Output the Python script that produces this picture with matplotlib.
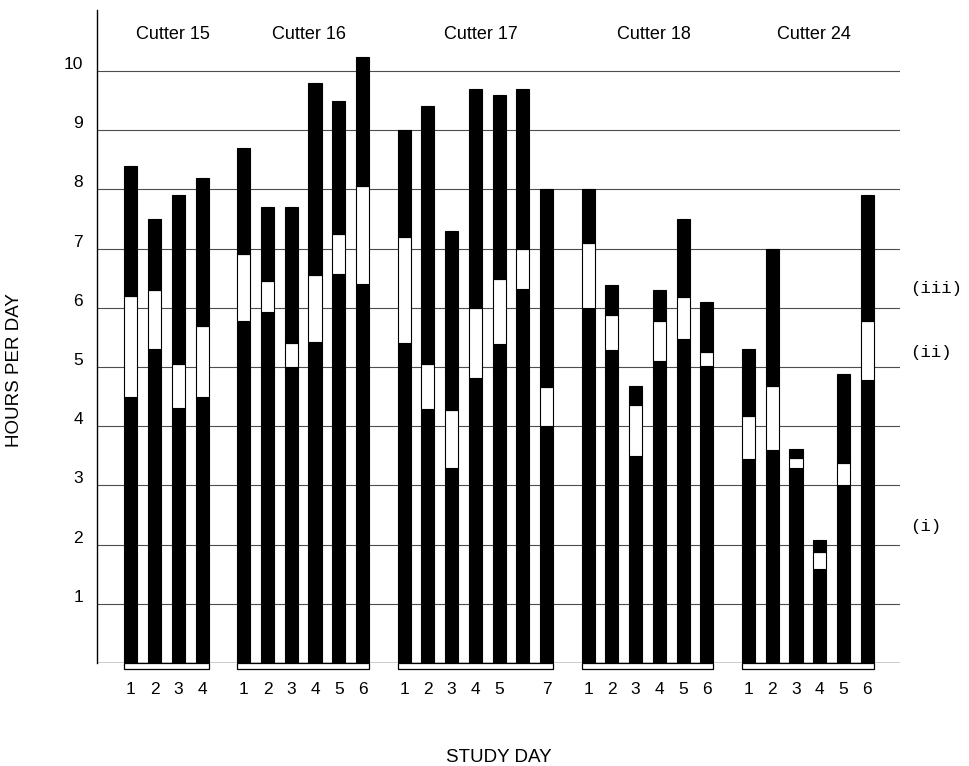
import numpy as np
import matplotlib
matplotlib.use("Agg")
from matplotlib import pyplot as plt
from matplotlib.patches import Rectangle
from matplotlib import transforms

plt.rcParams['font.family'] = ['Liberation Sans', 'DejaVu Sans']

# data: hours per day, each bar = (top of lower black, top of white band, total)
cutters = ['Cutter 15', 'Cutter 16', 'Cutter 17', 'Cutter 18', 'Cutter 24']
day_labels = [
    ['1', '2', '3', '4'],
    ['1', '2', '3', '4', '5', '6'],
    ['1', '2', '3', '4', '5', '', '7'],
    ['1', '2', '3', '4', '5', '6'],
    ['1', '2', '3', '4', '5', '6'],
]
lower = [
    [4.5, 5.3, 4.3, 4.5],
    [5.78, 5.93, 5.0, 5.42, 6.57, 6.4],
    [5.4, 4.29, 3.3, 4.81, 5.39, 6.31, 4.0],
    [6.0, 5.29, 3.5, 5.1, 5.48, 5.02],
    [3.45, 3.6, 3.29, 1.59, 3.0, 4.78],
]
middle = [
    [6.2, 6.3, 5.05, 5.7],
    [6.9, 6.45, 5.4, 6.55, 7.24, 8.05],
    [7.2, 5.05, 4.27, 6.0, 6.48, 7.0, 4.66],
    [7.09, 5.87, 4.35, 5.77, 6.19, 5.26],
    [4.17, 4.67, 3.47, 1.88, 3.37, 5.77],
]
total = [
    [8.4, 7.5, 7.9, 8.2],
    [8.7, 7.7, 7.7, 9.8, 9.5, 10.24],
    [9.0, 9.4, 7.3, 9.7, 9.6, 9.7, 8.0],
    [8.0, 6.38, 4.68, 6.3, 7.5, 6.1],
    [5.3, 7.0, 3.61, 2.07, 4.88, 7.9],
]
key_labels = ['(iii)', '(ii)', '(i)']
key_levels = [6.33, 5.25, 2.3]

fig = plt.figure(figsize=(9.69, 7.66), dpi=100)
ax = fig.add_axes([0.1001, 0.1345, 0.8287, 0.8525])

w = 0.55
gap = 1.75
start = 0.0
xs_all, labels_all = [], []
for g in range(len(cutters)):
    n = len(total[g])
    xs = start + np.arange(n)
    lo = np.array(lower[g])
    mid = np.array(middle[g])
    tot = np.array(total[g])
    ax.bar(xs, lo, width=w, color='black', edgecolor='black', lw=0.8, zorder=3)
    ax.bar(xs, mid - lo, bottom=lo, width=w, color='white', edgecolor='black', lw=0.8, zorder=3)
    ax.bar(xs, tot - mid, bottom=mid, width=w, color='black', edgecolor='black', lw=0.8, zorder=3)
    # bracket under each group
    ax.add_patch(Rectangle((xs[0] - w / 2, -0.11), xs[-1] - xs[0] + w, 0.11,
                           fill=False, edgecolor='black', lw=0.9, clip_on=False, zorder=4))
    ax.text(xs.mean() + 0.25, 10.61, cutters[g], ha='center', va='center', fontsize=13)
    xs_all += list(xs)
    labels_all += day_labels[g]
    start = xs[-1] + gap

ax.set_xlim(-1.43, 32.38)
ax.set_ylim(0, 11.03)

for v in range(1, 11):
    ax.axhline(v, color='0.3', lw=0.8, zorder=1)
ax.axhline(0, color='black', lw=1.0, zorder=2)

ax.set_xticks(xs_all)
ax.set_xticklabels(labels_all, fontsize=12.5)
ax.set_yticks(range(1, 11))
ax.set_yticklabels([str(v) for v in range(1, 11)], fontsize=12.5)
ax.tick_params(axis='x', length=0, pad=14)
ax.tick_params(axis='y', length=0, pad=10)
shift = transforms.ScaledTranslation(0, 8 / 100, fig.dpi_scale_trans)
for lab in ax.get_yticklabels():
    lab.set_transform(lab.get_transform() + shift)

for s in ['top', 'right', 'bottom']:
    ax.spines[s].set_visible(False)
ax.spines['left'].set_linewidth(1.0)

for lab, lev in zip(key_labels, key_levels):
    ax.text(1.012, lev, lab, transform=ax.get_yaxis_transform(), ha='left', va='center',
            fontsize=12.5, family=['Liberation Mono', 'DejaVu Sans Mono'])

fig.text(15 / 969, 1 - 370 / 766, 'HOURS PER DAY', rotation=90, ha='center', va='center', fontsize=13.5)
fig.text(499 / 969, 1 - 757 / 766, 'STUDY DAY', ha='center', va='center', fontsize=13.5)

fig.savefig('out.png', dpi=100)
